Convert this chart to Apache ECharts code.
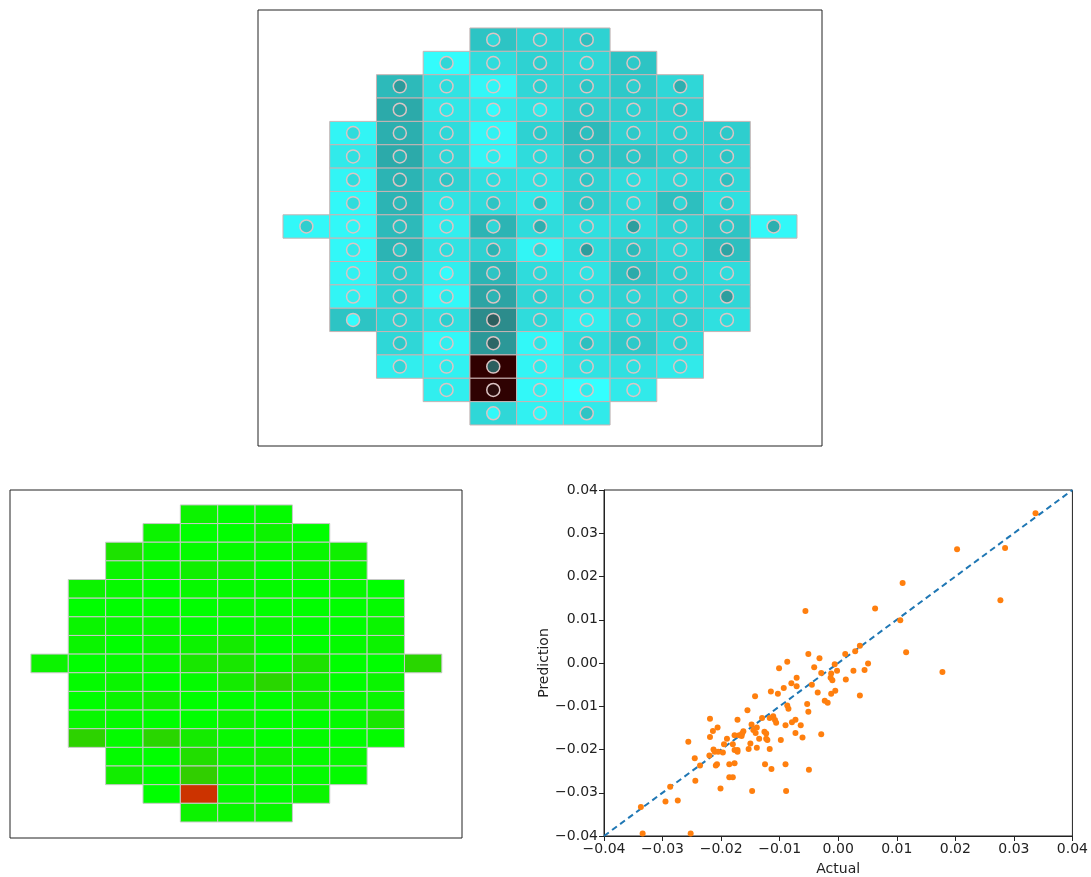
<!DOCTYPE html>
<html>
<head>
<meta charset="utf-8">
<script src="https://cdn.jsdelivr.net/npm/echarts@6/dist/echarts.min.js"></script>
<style>html,body{margin:0;padding:0;background:#fff;}#c{width:1091px;height:877px;}</style>
</head>
<body>
<div id="c"></div>
<script>
// ---- wafer layout: first column index of each row (rows top to bottom)
const rowStart = [4,3,2,2,1,1,1,1,0,1,1,1,1,2,2,3,4];

// ---- top wafer: cell values (actual) per row
const topActual = [
  [0.30,0.24,0.24],
  [0.02,0.20,0.24,0.22,0.30],
  [0.34,0.16,0.05,0.22,0.24,0.28,0.22],
  [0.40,0.14,0.12,0.18,0.26,0.26,0.24],
  [0.06,0.38,0.20,0.04,0.24,0.34,0.24,0.24,0.26],
  [0.12,0.40,0.22,0.06,0.20,0.30,0.30,0.26,0.24],
  [0.06,0.36,0.24,0.18,0.16,0.24,0.20,0.22,0.22],
  [0.04,0.36,0.16,0.20,0.12,0.26,0.22,0.32,0.18],
  [0.04,0.04,0.34,0.10,0.36,0.20,0.18,0.20,0.24,0.30,0.04],
  [0.04,0.36,0.16,0.24,0.06,0.20,0.26,0.22,0.32],
  [0.06,0.26,0.10,0.36,0.20,0.16,0.30,0.24,0.20],
  [0.06,0.24,0.04,0.42,0.22,0.20,0.24,0.22,0.22],
  [0.30,0.24,0.18,0.50,0.20,0.10,0.24,0.24,0.18],
  [0.22,0.04,0.46,0.04,0.20,0.28,0.20],
  [0.10,0.08,1.00,0.06,0.16,0.18,0.12],
  [0.10,0.98,0.04,0.00,0.12],
  [0.22,0.08,0.12]
];
// ---- top wafer: circle values (prediction) per row
const topPred = [
  [0.22,0.24,0.32],
  [0.22,0.20,0.26,0.22,0.28],
  [0.45,0.20,0.06,0.26,0.30,0.26,0.38],
  [0.42,0.14,0.02,0.12,0.30,0.24,0.30],
  [0.20,0.36,0.22,0.08,0.28,0.32,0.28,0.26,0.28],
  [0.18,0.36,0.22,0.12,0.22,0.30,0.28,0.24,0.30],
  [0.20,0.38,0.30,0.20,0.20,0.30,0.20,0.22,0.32],
  [0.20,0.34,0.14,0.30,0.34,0.32,0.20,0.22,0.30],
  [0.26,0.06,0.32,0.14,0.22,0.38,0.22,0.44,0.24,0.28,0.38],
  [0.12,0.30,0.20,0.36,0.24,0.44,0.34,0.22,0.42],
  [0.08,0.28,0.02,0.30,0.22,0.16,0.40,0.26,0.20],
  [0.10,0.28,0.14,0.36,0.28,0.22,0.22,0.26,0.44],
  [0.02,0.26,0.26,0.62,0.24,0.10,0.20,0.26,0.20],
  [0.28,0.10,0.60,0.16,0.32,0.28,0.26],
  [0.22,0.12,0.62,0.12,0.18,0.18,0.18],
  [0.12,0.90,0.10,0.12,0.10],
  [0.04,0.04,0.30]
];
// ---- bottom-left wafer: error values per row
const errVals = [
  [0.06,0.00,0.02],
  [0.06,0.00,0.00,0.06,0.00],
  [0.14,0.03,0.02,0.02,0.02,0.04,0.08],
  [0.05,0.03,0.08,0.06,0.00,0.05,0.04],
  [0.06,0.03,0.00,0.03,0.02,0.02,0.00,0.03,0.00],
  [0.00,0.00,0.00,0.00,0.02,0.00,0.00,0.00,0.02],
  [0.05,0.03,0.03,0.00,0.00,0.03,0.00,0.00,0.05],
  [0.05,0.00,0.04,0.06,0.10,0.00,0.00,0.02,0.06],
  [0.06,0.00,0.02,0.03,0.12,0.12,0.00,0.14,0.00,0.00,0.20],
  [0.02,0.05,0.00,0.02,0.10,0.20,0.08,0.00,0.05],
  [0.00,0.05,0.08,0.00,0.00,0.00,0.08,0.03,0.04],
  [0.04,0.02,0.00,0.00,0.05,0.00,0.00,0.02,0.12],
  [0.22,0.02,0.20,0.10,0.03,0.00,0.02,0.00,0.02],
  [0.02,0.00,0.16,0.04,0.07,0.02,0.03],
  [0.09,0.00,0.24,0.03,0.03,0.02,0.02],
  [0.00,1.00,0.03,0.00,0.05],
  [0.06,0.04,0.04]
];
// ---- scatter: actual vs prediction
const actual = [0.0337,0.0203,0.0285,0.0110,0.0277,-0.0056,0.0063,0.0106,0.0116,0.0178,
  -0.0051,-0.0087,-0.0032,0.0012,0.0029,0.0037,0.0051,0.0026,0.0045,0.0013,
  0.0037,-0.0101,-0.0041,-0.0029,-0.0006,-0.0002,-0.0012,-0.0013,-0.0010,-0.0005,
  -0.0012,-0.0071,-0.0080,-0.0045,-0.0071,-0.0093,-0.0115,-0.0103,-0.0035,-0.0023,
  -0.0018,-0.0142,-0.0053,-0.0087,-0.0085,-0.0051,-0.0155,-0.0172,-0.0130,-0.0111,
  -0.0117,-0.0108,-0.0106,-0.0073,-0.0079,-0.0064,-0.0090,-0.0148,-0.0139,-0.0145,
  -0.0162,-0.0141,-0.0126,-0.0123,-0.0073,-0.0029,-0.0061,-0.0164,-0.0169,-0.0177,
  -0.0165,-0.0135,-0.0123,-0.0121,-0.0098,-0.0190,-0.0219,-0.0206,-0.0214,-0.0219,
  -0.0256,-0.0180,-0.0195,-0.0150,-0.0213,-0.0211,-0.0205,-0.0197,-0.0172,-0.0177,
  -0.0172,-0.0153,-0.0139,-0.0117,-0.0220,-0.0245,-0.0236,-0.0177,-0.0186,-0.0207,
  -0.0209,-0.0125,-0.0090,-0.0114,-0.0050,-0.0186,-0.0180,-0.0244,-0.0201,-0.0147,
  -0.0089,-0.0287,-0.0295,-0.0274,-0.0337,-0.0334,-0.0252];
const prediction = [0.0346,0.0263,0.0266,0.0185,0.0145,0.0120,0.0126,0.0099,0.0025,-0.0021,
  0.0021,0.0003,0.0011,0.0021,0.0027,0.0040,-0.0001,-0.0018,-0.0016,-0.0038,
  -0.0075,-0.0012,-0.0010,-0.0023,-0.0003,-0.0018,-0.0024,-0.0034,-0.0040,-0.0064,
  -0.0071,-0.0034,-0.0047,-0.0050,-0.0054,-0.0058,-0.0066,-0.0071,-0.0068,-0.0087,
  -0.0092,-0.0077,-0.0095,-0.0098,-0.0106,-0.0113,-0.0109,-0.0131,-0.0127,-0.0123,
  -0.0127,-0.0132,-0.0138,-0.0131,-0.0137,-0.0144,-0.0144,-0.0142,-0.0149,-0.0155,
  -0.0158,-0.0162,-0.0159,-0.0163,-0.0162,-0.0165,-0.0172,-0.0163,-0.0167,-0.0167,
  -0.0169,-0.0175,-0.0175,-0.0178,-0.0178,-0.0175,-0.0129,-0.0149,-0.0157,-0.0171,
  -0.0182,-0.0188,-0.0188,-0.0186,-0.0200,-0.0205,-0.0205,-0.0207,-0.0201,-0.0201,
  -0.0205,-0.0199,-0.0196,-0.0199,-0.0214,-0.0220,-0.0237,-0.0232,-0.0234,-0.0234,
  -0.0237,-0.0234,-0.0234,-0.0245,-0.0247,-0.0264,-0.0264,-0.0272,-0.0290,-0.0296,
  -0.0296,-0.0286,-0.0320,-0.0318,-0.0333,-0.0394,-0.0394];
const tickMin = -0.04, tickMax = 0.04, tickStep = 0.01;

// ---- build data tables
function cells(rows){
  const out = [];
  rows.forEach((r, i) => r.forEach((v, j) => out.push([rowStart[i] + j, i, v])));
  return out;
}
const topCells = cells(topActual);
const topCircles = cells(topPred);
const errCells = cells(errVals);
const scatterPts = actual.map((a, i) => [a, prediction[i]]);

const cyanMap = ['#33ffff','#31eeee','#2fdcdc','#2dc4c4','#2caaaa','#2c8c8c','#2c6666','#2a4444','#2a2424','#2c0c0c','#300000'];
const greenMap = ['#00ff00','#cc3300'];

function rectItem(stroke){
  return function(params, api){
    const x = api.value(0), y = api.value(1);
    const p0 = api.coord([x - 0.5, y - 0.5]);
    const p1 = api.coord([x + 0.5, y + 0.5]);
    return {
      type: 'rect',
      shape: {x: Math.min(p0[0], p1[0]), y: Math.min(p0[1], p1[1]),
              width: Math.abs(p1[0] - p0[0]), height: Math.abs(p1[1] - p0[1])},
      style: {fill: api.visual('color'), stroke: stroke, lineWidth: 1}
    };
  };
}
const fmt = v => Math.abs(v) < 1e-9 ? '0.00' : (v < 0 ? '\u2212' : '') + Math.abs(v).toFixed(2);
const hidden = {axisLine:{show:false}, axisTick:{show:false}, axisLabel:{show:false}, splitLine:{show:false}};
const font = 'DejaVu Sans';

const chart = echarts.init(document.getElementById('c'), null, {renderer: 'canvas'});
chart.setOption({
  animation: false,
  textStyle: {fontFamily: font},
  grid: [
    {left: 258, top: 10, width: 564, height: 436, show: true, borderColor: '#222', borderWidth: 1, backgroundColor: '#fff'},
    {left: 10, top: 490, width: 452, height: 348, show: true, borderColor: '#222', borderWidth: 1, backgroundColor: '#fff'},
    {left: 604, top: 490, width: 470, height: 348, show: true, borderColor: '#222', borderWidth: 1, backgroundColor: '#fff'}
  ],
  xAxis: [
    Object.assign({type: 'value', gridIndex: 0, min: -1.035, max: 11.035}, hidden),
    Object.assign({type: 'value', gridIndex: 1, min: -1.06, max: 11.04}, hidden),
    {type: 'value', gridIndex: 2, min: tickMin, max: tickMax, interval: tickStep,
     name: 'Actual', nameLocation: 'middle', nameGap: 26,
     nameTextStyle: {fontSize: 14, color: '#222', fontFamily: font},
     axisLine: {show: true, onZero: false, lineStyle: {color: '#222'}},
     axisTick: {show: true, length: 5, lineStyle: {color: '#222'}},
     axisLabel: {formatter: fmt, fontSize: 14, color: '#222', margin: 6, fontFamily: font},
     splitLine: {show: false}}
  ],
  yAxis: [
    Object.assign({type: 'value', gridIndex: 0, min: -1.27, max: 17.4, inverse: true}, hidden),
    Object.assign({type: 'value', gridIndex: 1, min: -1.3, max: 17.36, inverse: true}, hidden),
    {type: 'value', gridIndex: 2, min: tickMin, max: tickMax, interval: tickStep,
     name: 'Prediction', nameLocation: 'middle', nameGap: 52, nameRotate: 90,
     nameTextStyle: {fontSize: 14, color: '#222', fontFamily: font},
     axisLine: {show: true, onZero: false, lineStyle: {color: '#222'}},
     axisTick: {show: true, length: 5, lineStyle: {color: '#222'}},
     axisLabel: {formatter: fmt, fontSize: 14, color: '#222', margin: 6, fontFamily: font},
     splitLine: {show: false}}
  ],
  visualMap: [
    {type: 'continuous', show: false, min: 0, max: 1, dimension: 2, seriesIndex: [0, 1], inRange: {color: cyanMap}},
    {type: 'continuous', show: false, min: 0, max: 1, dimension: 2, seriesIndex: [2], inRange: {color: greenMap}}
  ],
  series: [
    {type: 'custom', xAxisIndex: 0, yAxisIndex: 0, data: topCells, renderItem: rectItem('#c9b3b3'), z: 2},
    {type: 'scatter', xAxisIndex: 0, yAxisIndex: 0, data: topCircles, symbol: 'circle', symbolSize: 13,
     itemStyle: {borderColor: '#dcc4c4', borderWidth: 1.5, opacity: 1}, z: 3},
    {type: 'custom', xAxisIndex: 1, yAxisIndex: 1, data: errCells, renderItem: rectItem('#c8c8c8'), z: 2},
    {type: 'line', xAxisIndex: 2, yAxisIndex: 2, data: [[tickMin, tickMin], [tickMax, tickMax]],
     showSymbol: false, symbol: 'none', lineStyle: {color: '#1f77b4', width: 2, type: [6, 4]}, z: 2},
    {type: 'scatter', xAxisIndex: 2, yAxisIndex: 2, data: scatterPts, symbol: 'circle', symbolSize: 6,
     itemStyle: {color: '#ff7f0e', opacity: 1}, z: 3}
  ]
});
</script>
</body>
</html>
